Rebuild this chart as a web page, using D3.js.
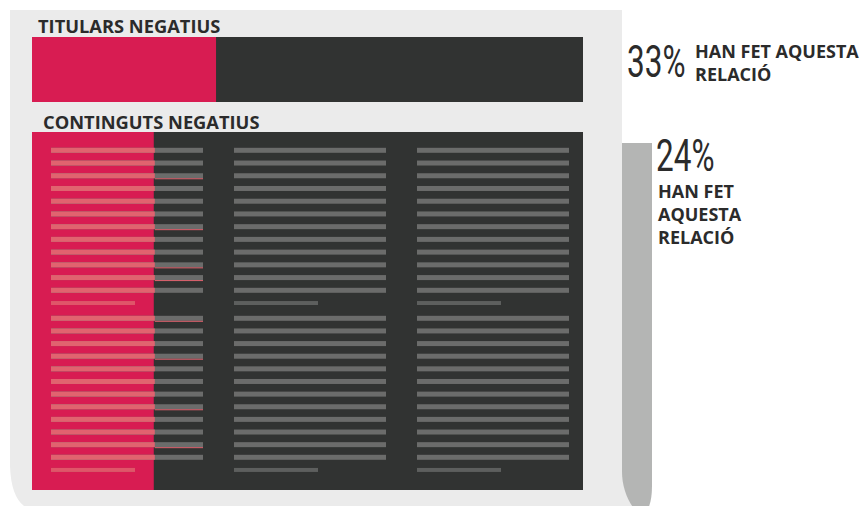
<!DOCTYPE html>
<html>
<head>
<meta charset="utf-8">
<script src="https://cdn.jsdelivr.net/npm/d3@7"></script>
<style>
  html, body { margin: 0; padding: 0; background: #ffffff; }
  svg { display: block; }
</style>
</head>
<body>
<svg id="chart" width="867" height="506"></svg>
<script>
// ---- Data ----
const categories = ["TITULARS NEGATIUS", "CONTINGUTS NEGATIUS"];
const barShare = [33.4, 22.1];            // share of each bar coloured pink
const pctLabels = ["33%", "24%"];
const pctCaption = ["HAN FET AQUESTA", "RELACIÓ"];
const pctCaption2 = ["HAN FET", "AQUESTA", "RELACIÓ"];
const textColumns = [0, 1, 2];
const textRows = [0, 1, 2, 3, 4, 5, 6, 7, 8, 9, 10, 11];
const textBlocks = [0, 1];
const underlinedRows = [[2, 6, 9, 10], [0, 3, 7, 10]];

// ---- Colours ----
const PINK = "#d81c52", DARK = "#313332", PAPER = "#ebebeb", ROLL = "#b4b5b4",
      LINE = "#6b6c6b", PINKLINE = "#e1636f", INK = "#2b2b2b";

const svg = d3.select("#chart");

// Scales
const x = d3.scaleLinear().domain([0, 100]).range([32, 583]);
const barY = d3.scaleOrdinal().domain(categories).range([37, 132]);
const barH = d3.scaleOrdinal().domain(categories).range([65, 358]);
const colX = d3.scaleLinear().domain([0, 1]).range([51, 234]);   // column start
const colW = 152;
const blockRow = [
  d3.scaleLinear().domain([0, 11]).range([150.3, 290.3]),
  d3.scaleLinear().domain([0, 11]).range([318.3, 457.3])
];

// Paper
svg.append("path")
  .attr("d", "M10,10 H622 V470 H642 V506 H24 Q11,496 10,466 Z")
  .attr("fill", PAPER);
// Roll
svg.append("path")
  .attr("d", "M622,143 H652 V486 C652,500 649,512 643,513 C633,514 622,492 622,472 Z")
  .attr("fill", ROLL);

// Category titles
svg.selectAll("text.cat").data(categories).join("text")
  .attr("class", "cat")
  .attr("x", (d, i) => i === 0 ? 38 : 43)
  .attr("y", (d, i) => i === 0 ? 32.5 : 128.5)
  .attr("font-family", "'Open Sans', sans-serif")
  .attr("font-weight", 700)
  .attr("font-size", 18.3)
  .attr("fill", INK)
  .text(d => d);

// Bars: dark background + pink share
svg.selectAll("rect.bg").data(categories).join("rect")
  .attr("x", x(0)).attr("y", d => barY(d))
  .attr("width", x(100) - x(0)).attr("height", d => barH(d))
  .attr("fill", DARK);
svg.selectAll("rect.share").data(categories).join("rect")
  .attr("x", x(0)).attr("y", d => barY(d))
  .attr("width", (d, i) => x(barShare[i]) - x(0)).attr("height", d => barH(d))
  .attr("fill", PINK);

// Faux text lines in the contents block
const pinkEdge = x(barShare[1]) + 1;
const lines = [];
textBlocks.forEach(b => {
  textColumns.forEach(c => {
    const x0 = c === 0 ? colX(0) : colX(c);
    textRows.forEach(r => lines.push({b, c, r, x0, w: colW, short: false}));
    lines.push({b, c, r: 12, x0, w: 84, short: true});
  });
});
const lineY = d => blockRow[d.b](d.r);
const g = svg.append("g");
g.selectAll("rect.ln").data(lines).join("rect")
  .attr("x", d => d.x0)
  .attr("y", d => lineY(d) - (d.short ? 2 : 2.5))
  .attr("width", d => d.w)
  .attr("height", d => d.short ? 4 : 5)
  .attr("fill", d => d.short ? "#5d5f5e" : LINE);

// Pink overlay for lines over the pink area
svg.append("clipPath").attr("id", "pinkclip")
  .append("rect").attr("x", 0).attr("y", 0).attr("width", pinkEdge).attr("height", 506);
g.append("g").attr("clip-path", "url(#pinkclip)")
  .selectAll("rect").data(lines.filter(d => d.c === 0)).join("rect")
  .attr("x", d => d.x0)
  .attr("y", d => lineY(d) - (d.short ? 2 : 2.5))
  .attr("width", d => d.w)
  .attr("height", d => d.short ? 4 : 5)
  .attr("fill", d => d.short ? "#e05569" : PINKLINE);

// Small pink underlines
const ul = [];
underlinedRows.forEach((rows, b) => rows.forEach(r => ul.push({b, r, c: 0})));
g.selectAll("rect.ul").data(ul).join("rect")
  .attr("x", pinkEdge).attr("y", d => lineY(d) + 2.5)
  .attr("width", colX(0) + colW - pinkEdge).attr("height", 1)
  .attr("fill", PINKLINE);

// Percent labels
function bigPct(txt, px, py) {
  svg.append("text")
    .attr("transform", `translate(${px},${py}) scale(0.7,1)`)
    .attr("font-family", "Roboto, sans-serif")
    .attr("font-weight", 400)
    .attr("font-size", 45)
    .attr("fill", INK)
    .text(txt);
}
bigPct(pctLabels[0], 627, 77);
bigPct(pctLabels[1], 656, 171);

svg.selectAll("text.cap1").data(pctCaption).join("text")
  .attr("x", 695).attr("y", (d, i) => 58 + i * 23)
  .attr("font-family", "'Open Sans', sans-serif")
  .attr("font-weight", 700).attr("font-size", 18)
  .attr("fill", INK).text(d => d);

svg.selectAll("text.cap2").data(pctCaption2).join("text")
  .attr("x", 658).attr("y", (d, i) => 198 + i * 23)
  .attr("font-family", "'Open Sans', sans-serif")
  .attr("font-weight", 700).attr("font-size", 18)
  .attr("fill", INK).text(d => d);
</script>
</body>
</html>
